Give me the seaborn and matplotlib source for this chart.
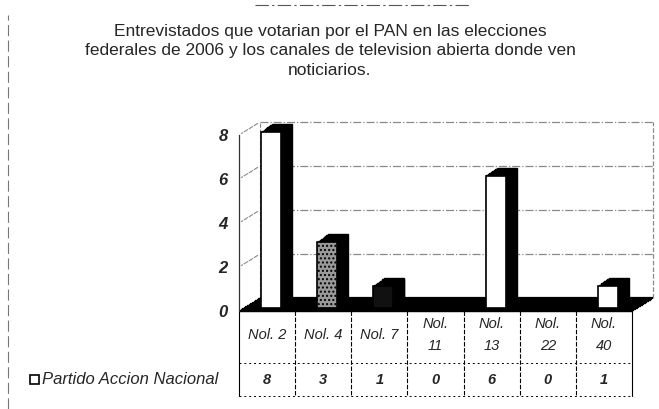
import numpy as np
import pandas as pd
import matplotlib
matplotlib.use('Agg')
import matplotlib.pyplot as plt
import matplotlib.transforms as mtransforms
from matplotlib.patches import Rectangle
import seaborn as sns

# datos
canales = ['Nol. 2', 'Nol. 4', 'Nol. 7', 'Nol. 11', 'Nol. 13', 'Nol. 22', 'Nol. 40']
etiquetas_tabla = ['Nol. 2', 'Nol. 4', 'Nol. 7', 'Nol.\n11', 'Nol.\n13', 'Nol.\n22', 'Nol.\n40']
votos_pan = [8, 3, 1, 0, 6, 0, 1]
serie = 'Partido Accion Nacional'
marcas_y = [0, 2, 4, 6, 8]
titulo = ('Entrevistados que votarian por el PAN en las elecciones\n'
          'federales de 2006 y los canales de television abierta donde ven\n'
          'noticiarios.')

df = pd.DataFrame({'canal': canales, 'votos': votos_pan})

sns.set_style('white')
plt.rcParams['font.family'] = ['Liberation Sans', 'DejaVu Sans']

fig = plt.figure(figsize=(6.59, 4.09), dpi=100)
ax = fig.add_axes([239 / 659, 1 - 311 / 409, 393 / 659, 176 / 409])

sns.barplot(data=df, x='canal', y='votos', color='white', edgecolor='black',
            linewidth=1.2, width=0.36, saturation=1, ax=ax)

def desplazar(dx, dy):
    return mtransforms.offset_copy(ax.transData, fig=fig, x=dx, y=dy, units='dots')

# efecto 3D: piso negro
for k in range(0, 27):
    f = k / 26
    ax.plot([-0.5, 6.5], [0, 0], color='black', lw=1.6, solid_capstyle='butt',
            transform=desplazar(21 * f, 13 * f), clip_on=False, zorder=1)

# pared del fondo
gris = '#8a8a8a'
for v in marcas_y[1:]:
    ax.plot([-0.5, 6.5], [v, v], color=gris, lw=0.9, ls='-.',
            transform=desplazar(21, 13), clip_on=False, zorder=0.5)
    ax.annotate('', xy=(-0.5, v), xytext=(21, 13), textcoords='offset pixels',
                arrowprops=dict(arrowstyle='-', color=gris, lw=0.8, ls='--'),
                annotation_clip=False, zorder=0.5)
ax.plot([6.5, 6.5], [0, 8], color=gris, lw=0.9, ls='--',
        transform=desplazar(21, 13), clip_on=False, zorder=0.5)
ax.plot([-0.5, -0.5], [0, 8], color=gris, lw=0.8, ls='--',
        transform=desplazar(21, 13), clip_on=False, zorder=0.5)

# barras con profundidad
barras = list(ax.patches)
for i, p in enumerate(barras):
    x, w, h = p.get_x(), p.get_width(), p.get_height()
    for k in range(1, 13):
        f = k / 12
        ax.add_patch(Rectangle((x, 0), w, h, facecolor='black', edgecolor='black',
                               lw=1, transform=desplazar(4 + 11 * f, 3 + 8 * f),
                               clip_on=False, zorder=2))
    p.set_transform(desplazar(4, 3))
    p.set_clip_on(False)
    p.set_zorder(3)
barras[1].set_facecolor('#9a9a9a')
barras[1].set_hatch('....')
barras[2].set_facecolor('#111111')

ax.set_xlim(-0.5, 6.5)
ax.set_ylim(0, 8)
ax.set_xticks([])
ax.set_xlabel('')
ax.set_ylabel('')
ax.set_yticks(marcas_y)
ax.set_yticklabels([str(m) for m in marcas_y], fontsize=12, fontweight='bold',
                   fontstyle='italic')
ax.tick_params(axis='y', length=0, pad=8)
for s in ['top', 'right', 'bottom']:
    ax.spines[s].set_visible(False)
ax.spines['left'].set_color('#333333')
ax.spines['left'].set_linewidth(0.9)
ax.set_facecolor('none')

# tabla de datos
mezcla = mtransforms.blended_transform_factory(ax.transData, ax.transAxes)
y_fila1 = -(335 - 311) / 176
y_fila2 = -(380 - 311) / 176
y_div = -(363 - 311) / 176
y_fin = -(396 - 311) / 176
for i, (lab, v) in enumerate(zip(etiquetas_tabla, votos_pan)):
    ax.text(i, y_fila1, lab, transform=mezcla, ha='center', va='center',
            fontsize=10.5, fontstyle='italic', linespacing=1.7)
    ax.text(i, y_fila2, str(v), transform=mezcla, ha='center', va='center',
            fontsize=10.5, fontstyle='italic', fontweight='bold')
for k in range(8):
    ax.plot([k - 0.5, k - 0.5], [0, y_fin], transform=mezcla, color='black',
            lw=0.8, ls=(0, (4, 1.5)) if 0 < k < 7 else '-', clip_on=False)
ax.plot([-0.5, 6.5], [y_div, y_div], transform=mezcla, color='black', lw=0.7,
        ls=(0, (2, 3)), clip_on=False)
ax.plot([-0.5, 6.5], [y_fin, y_fin], transform=mezcla, color='black', lw=0.7,
        ls=(0, (2, 3)), clip_on=False)

# leyenda de la serie
fig.patches.append(Rectangle((30 / 659, 1 - 384 / 409), 9 / 659, 9 / 409,
                             transform=fig.transFigure, facecolor='white',
                             edgecolor='black', lw=1.2))
fig.text(42 / 659, 1 - 380 / 409, serie, fontsize=12, fontstyle='italic',
         va='center', ha='left')

# titulo
fig.text(330 / 659, 1 - 51 / 409, titulo, ha='center', va='center',
         fontsize=12.5, linespacing=1.35)

# bordes del escaneo
fig.add_artist(plt.Line2D([8 / 659, 8 / 659], [0.0, 1 - 15 / 409], color='#777777',
                          lw=0.8, ls=(0, (10, 4)), transform=fig.transFigure))
fig.add_artist(plt.Line2D([255 / 659, 470 / 659], [1 - 5 / 409, 1 - 5 / 409],
                          color='#555555', lw=0.8, ls=(0, (12, 3, 2, 3)),
                          transform=fig.transFigure))

fig.savefig('out.png', dpi=100)
